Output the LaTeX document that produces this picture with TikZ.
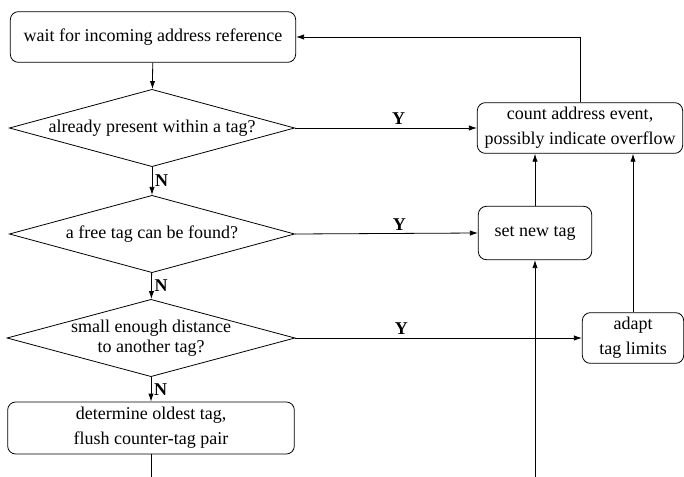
\documentclass[tikz,border=0pt]{standalone}
\usepackage{fontspec}
\setmainfont{Liberation Serif}
\usetikzlibrary{shapes.geometric,arrows.meta}
\tikzset{
  procbox/.style={draw, rounded corners=6pt, align=center, inner sep=0pt},
  decision/.style={draw, diamond, inner sep=0pt, minimum width=214pt, minimum height=58pt,
    label={[align=center, inner sep=0pt, font=\fontsize{13.5}{15}\selectfont]center:#1}},
  flow/.style={-{Latex[length=6pt,width=4pt]}},
  answer/.style={font=\fontsize{13.5}{16}\selectfont\bfseries, inner sep=2pt}
}
\begin{document}
\begin{tikzpicture}[x=0.75pt, y=-0.75pt, line width=0.6pt, font=\fontsize{13.5}{18.75}\selectfont]
        \useasboundingbox (0,0) rectangle (684,477);

        % left column
        \node[procbox, minimum width=214pt, minimum height=38pt] (wait) at (153,37) {wait for incoming address reference};
        \node[decision={already present within a tag?}] (present) at (152,128) {};
        \node[decision={a free tag can be found?}] (free) at (152,234) {};
        \node[decision={small enough distance\\to another tag?}, minimum width=216pt] (near) at (151,338) {};
        \node[procbox, minimum width=215pt, minimum height=39pt] (flush) at (151,428) {determine oldest tag,\\flush counter-tag pair};

        % right column
        \node[procbox, minimum width=154pt, minimum height=38pt] (count) at (580,128) {count address event,\\possibly indicate overflow};
        \node[procbox, minimum width=85pt, minimum height=40pt] (settag) at (535,233) {set new tag};
        \node[procbox, minimum width=76pt, minimum height=38pt] (adapt) at (633,338) {adapt\\tag limits};

        \coordinate (flushout) at (151,477);
        \coordinate (setin) at (535,477);

        \draw[flow] (wait) -- (present);
        \draw[flow] (present) -- node[answer, right, pos=0.5] {N} (free);
        \draw[flow] (free) -- node[answer, right, pos=0.5] {N} (near);
        \draw[flow] (near) -- node[answer, right, pos=0.5] {N} (flush);
        \draw (flush) -- (flushout);

        \draw[flow] (present.east) -- node[answer, above, pos=0.57] {Y} (count.west);
        \draw[flow] (free.east) -- node[answer, above, pos=0.57] {Y} (settag.west);
        \draw[flow] (near.east) -- node[answer, above, pos=0.37] {Y} (near.east -| adapt.west);

        \draw[flow] (settag.north) -- (settag.north |- count.south);
        \draw[flow] (adapt.north) -- (adapt.north |- count.south);
        \draw[flow] (setin) -- (settag.south);
        \draw[flow] (count.north) |- (wait.east);
    \end{tikzpicture}
\end{document}
